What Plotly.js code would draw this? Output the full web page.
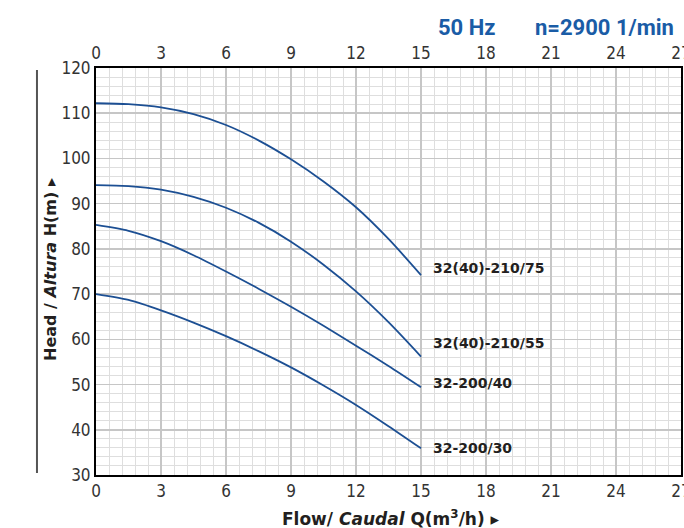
<!DOCTYPE html>
<html>
<head>
<meta charset="utf-8">
<script src="https://cdn.plot.ly/plotly-3.0.1.min.js"></script>
<style>
  html, body { margin: 0; padding: 0; background: #fff; overflow: hidden; }
  #chart { width: 684px; height: 528px; }
</style>
</head>
<body>
<div id="chart"></div>
<script>
// Flow Q (m3/h)
const flow = [0, 1.5, 3, 4.5, 6, 7.5, 9, 10.5, 12, 13.5, 15];
// Head H (m) per pump model
const head_210_75 = [112.2, 112.0, 111.3, 109.8, 107.4, 104.0, 99.8, 94.9, 89.2, 82.2, 74.2];
const head_210_55 = [94.1, 93.9, 93.1, 91.5, 89.1, 85.8, 81.6, 76.5, 70.6, 63.8, 56.2];
const head_200_40 = [85.3, 84.0, 81.7, 78.6, 75.0, 71.2, 67.2, 63.0, 58.6, 54.1, 49.4];
const head_200_30 = [70.0, 68.7, 66.4, 63.7, 60.7, 57.4, 53.8, 49.8, 45.5, 40.8, 35.9];
const seriesNames = ["32(40)-210/75", "32(40)-210/55", "32-200/40", "32-200/30"];
const xTicks = [0, 3, 6, 9, 12, 15, 18, 21, 24, 27];
const yTicks = [30, 40, 50, 60, 70, 80, 90, 100, 110, 120];

const allHeads = [head_210_75, head_210_55, head_200_40, head_200_30];
const labelShift = [7, 14, 4, 0];
const lineColor = "#1c4f93";
const tickFont = { family: "DejaVu Sans Condensed, DejaVu Sans, sans-serif", size: 17, color: "#333" };

const traces = allHeads.map((h, i) => ({
  x: flow, y: h, type: "scatter", mode: "lines", name: seriesNames[i],
  xaxis: i === 0 ? "x2" : "x",
  line: { color: lineColor, width: 1.8, shape: "spline", smoothing: 0.8 },
  hoverinfo: "skip", showlegend: false
}));

const annotations = allHeads.map((h, i) => ({
  x: flow[flow.length - 1], y: h[h.length - 1], xref: "x", yref: "y",
  text: "<b>" + seriesNames[i] + "</b>", showarrow: false,
  xanchor: "left", yanchor: "middle", xshift: 10, yshift: labelShift[i],
  font: { family: "DejaVu Sans, sans-serif", size: 14, color: "#231f20" }
}));

const headFont = { family: "Liberation Sans Narrow, Roboto, sans-serif", size: 22, color: "#1a5ca6" };
annotations.push({
  xref: "paper", yref: "paper", x: (436 - 96) / 585, y: (475 - 27) / 407,
  xanchor: "left", yanchor: "middle", text: "<b>50 Hz</b>", showarrow: false, font: headFont
});
annotations.push({
  xref: "paper", yref: "paper", x: (533 - 96) / 585, y: (475 - 27) / 407,
  xanchor: "left", yanchor: "middle", text: "<b>n=2900 1/min</b>", showarrow: false, font: headFont
});
annotations.push({
  xref: "paper", yref: "paper", x: (50 - 96) / 585, y: (475 - 270) / 407,
  xanchor: "center", yanchor: "middle", textangle: -90, showarrow: false,
  text: "<b>Head / <i>Altura</i> H(m) ▸</b>",
  font: { family: "DejaVu Sans, sans-serif", size: 16, color: "#231f20" }
});
annotations.push({
  xref: "paper", yref: "paper", x: (391 - 96) / 585, y: (475 - 518) / 407,
  xanchor: "center", yanchor: "middle", showarrow: false,
  text: "<b>Flow/ <i>Caudal</i> Q(m<sup>3</sup>/h) ▸</b>",
  font: { family: "DejaVu Sans, sans-serif", size: 17, color: "#231f20" }
});

const xBase = {
  range: [0, 27], tickmode: "array", tickvals: xTicks, ticktext: xTicks.map(String),
  ticks: "", tickfont: tickFont, zeroline: false, ticklabeloverflow: "allow",
  showline: true, linecolor: "#000", linewidth: 2
};

const layout = {
  width: 684, height: 528,
  margin: { l: 96, r: 3, t: 68, b: 53 },
  paper_bgcolor: "#fff", plot_bgcolor: "#fff",
  xaxis: Object.assign({}, xBase, {
    side: "bottom", mirror: true,
    showgrid: true, gridcolor: "#c6c6c6", gridwidth: 1.5,
    minor: { dtick: 0.6, tick0: 0, showgrid: true, gridcolor: "#dedede", gridwidth: 1, ticks: "" }
  }),
  xaxis2: Object.assign({}, xBase, {
    side: "top", overlaying: "x", anchor: "y", showgrid: false
  }),
  yaxis: {
    range: [30, 120], tickmode: "array", tickvals: yTicks, ticktext: yTicks.map(String),
    ticks: "", tickfont: tickFont, zeroline: false,
    showline: true, mirror: true, linecolor: "#000", linewidth: 2,
    showgrid: true, gridcolor: "#c6c6c6", gridwidth: 1.5,
    minor: { dtick: 2, tick0: 30, showgrid: true, gridcolor: "#dedede", gridwidth: 1, ticks: "" }
  },
  shapes: [{
    type: "line", xref: "paper", yref: "paper",
    x0: -0.1009, x1: -0.1009, y0: 0.005, y1: 0.995,
    line: { color: "#555", width: 2 }
  }],
  annotations: annotations
};

Plotly.newPlot("chart", traces, layout, { staticPlot: true, displayModeBar: false });
</script>
</body>
</html>
